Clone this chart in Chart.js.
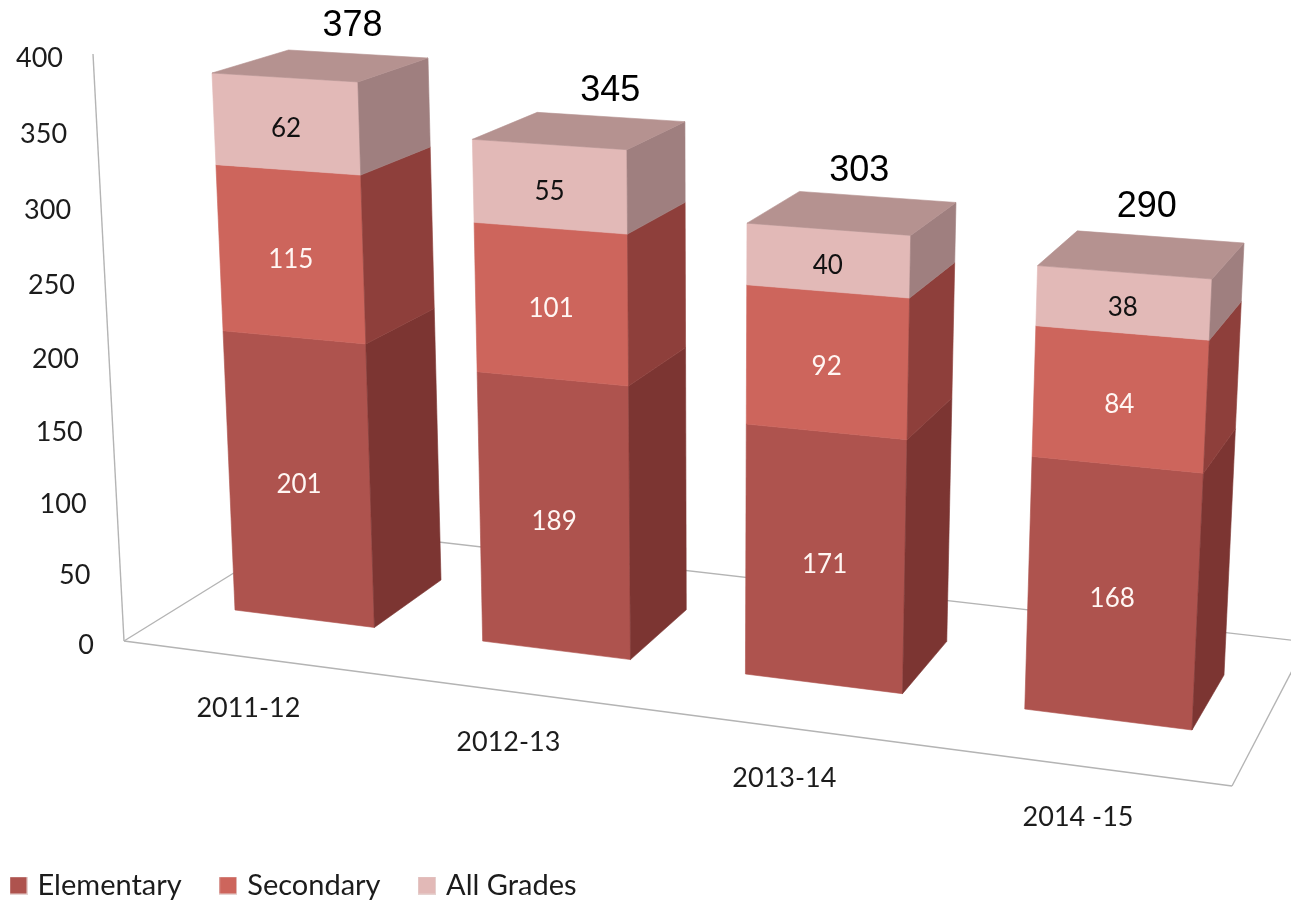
<!DOCTYPE html>
<html>
<head>
<meta charset="utf-8">
<title>Stacked bars</title>
<script src="https://cdn.jsdelivr.net/npm/chart.js@4/dist/chart.umd.min.js"></script>
<style>
  html, body { margin: 0; padding: 0; background: #fff; }
  #wrap { width: 1291px; height: 902px; }
  canvas { display: block; }
</style>
</head>
<body>
<div id="wrap"><canvas id="myChart" width="1291" height="902"></canvas></div>
<script>
const categories = ['2011-12', '2012-13', '2013-14', '2014 -15'];
const elementary = [201, 189, 171, 168];
const secondary = [115, 101, 92, 84];
const allGrades = [62, 55, 40, 38];
const totals = [378, 345, 303, 290];
const yTicks = [0, 50, 100, 150, 200, 250, 300, 350, 400];

const textFont = 'Lato, "Open Sans", sans-serif';

// [front, side, top, label colour] for each series
const shades = [
  ['#ae534e', '#7c3532', '#7c3532', '#fff6f3'],
  ['#cd655c', '#8e3f3b', '#8e3f3b', '#fff6f3'],
  ['#e2b9b7', '#9f7f7f', '#b59290', '#111111']
];

// where the picture's perspective puts things, used to fit the projections below
const frontQuad = [[235, 610], [212, 73], [1192, 730], [1212, 279]];
const backQuad = [[441, 580], [428, 58], [1224, 675], [1244, 243]];
const wallQuad = [[124, 641], [93, 54], [1232, 786], [1264, 127]];
const floorBack = [[308, 527], [1307, 642]];
const totalNudge = [[31, -40], [30, -40], [6, -42], [4, -48]];

// solve the 8 unknowns of a homography from 4 point pairs
function fitHomography(src, dst) {
  var m = [];
  for (var i = 0; i < 4; i++) {
    var x = src[i][0], y = src[i][1], u = dst[i][0], v = dst[i][1];
    m.push([x, y, 1, 0, 0, 0, -x * u, -y * u, u]);
    m.push([0, 0, 0, x, y, 1, -x * v, -y * v, v]);
  }
  for (var c = 0; c < 8; c++) {
    var best = c;
    for (var r = c + 1; r < 8; r++) {
      if (Math.abs(m[r][c]) > Math.abs(m[best][c])) best = r;
    }
    var tmp = m[c]; m[c] = m[best]; m[best] = tmp;
    for (var r2 = 0; r2 < 8; r2++) {
      if (r2 === c) continue;
      var f = m[r2][c] / m[c][c];
      for (var k = c; k < 9; k++) m[r2][k] -= f * m[c][k];
    }
  }
  var h = m.map(function (row, idx) { return row[8] / row[idx]; });
  return function (x, y) {
    var w = h[6] * x + h[7] * y + 1;
    return [(h[0] * x + h[1] * y + h[2]) / w, (h[3] * x + h[4] * y + h[5]) / w];
  };
}

function face(ctx, pts, color) {
  ctx.beginPath();
  ctx.moveTo(pts[0][0], pts[0][1]);
  for (var i = 1; i < pts.length; i++) ctx.lineTo(pts[i][0], pts[i][1]);
  ctx.closePath();
  ctx.fillStyle = color;
  ctx.strokeStyle = color;
  ctx.lineWidth = 0.6;
  ctx.fill();
  ctx.stroke();
}

function frameLine(ctx, a, b) {
  ctx.beginPath();
  ctx.moveTo(a[0], a[1]);
  ctx.lineTo(b[0], b[1]);
  ctx.stroke();
}

// legend square as an image, it can sit closer to its text than a plain box
function swatch(color) {
  var c = document.createElement('canvas');
  c.width = 18;
  c.height = 18;
  var g = c.getContext('2d');
  g.fillStyle = '#e6d2d0';
  g.fillRect(0, 0, 18, 18);
  g.fillStyle = color;
  g.fillRect(0.5, 0.5, 16.5, 16.5);
  return c;
}

const perspective = {
  id: 'perspective',
  // drawn here instead of the flat bars, returning false skips those
  beforeDatasetsDraw: function (chart) {
    var ctx = chart.ctx;
    var xs = chart.scales.x, ys = chart.scales.y;
    var last = chart.data.datasets.length - 1;
    var topBars = chart.getDatasetMeta(last).data;
    var firstBar = topBars[0], lastBar = topBars[topBars.length - 1];
    var y0 = ys.getPixelForValue(0);

    var l0 = firstBar.x - firstBar.width / 2, r0 = firstBar.x + firstBar.width / 2;
    var r3 = lastBar.x + lastBar.width / 2;
    var yFirst = ys.getPixelForValue(totals[0]);
    var yLast = ys.getPixelForValue(totals[totals.length - 1]);

    var front = fitHomography([[l0, y0], [l0, yFirst], [r3, y0], [r3, yLast]], frontQuad);
    var back = fitHomography([[r0, y0], [r0, yFirst], [r3, y0], [r3, yLast]], backQuad);
    var wall = fitHomography([[xs.left, y0], [xs.left, ys.top], [xs.right, y0], [xs.right, ys.top]], wallQuad);

    ctx.save();

    // walls and floor
    ctx.strokeStyle = '#b4b4b4';
    ctx.lineWidth = 1.4;
    var corner = wall(xs.left, y0), cornerTop = wall(xs.left, ys.top), cornerRight = wall(xs.right, y0);
    frameLine(ctx, corner, cornerTop);
    frameLine(ctx, corner, cornerRight);
    frameLine(ctx, corner, floorBack[0]);
    frameLine(ctx, floorBack[0], floorBack[1]);
    frameLine(ctx, cornerRight, floorBack[1]);

    // y axis labels along the slanted axis
    ctx.fillStyle = '#1c1c1c';
    ctx.font = '27px ' + textFont;
    ctx.textAlign = 'right';
    ctx.textBaseline = 'middle';
    ys.ticks.forEach(function (tick) {
      var p = wall(xs.left, ys.getPixelForValue(tick.value));
      ctx.fillText(String(tick.value), p[0] - 30, p[1] + 4);
    });

    // category labels hang under the front floor edge
    ctx.textAlign = 'center';
    categories.forEach(function (name, i) {
      var p = wall(xs.getPixelForValue(i), y0);
      ctx.fillText(name, p[0], p[1] + 51);
    });

    // bars, left to right and bottom to top
    categories.forEach(function (name, i) {
      chart.data.datasets.forEach(function (ds, d) {
        var bar = chart.getDatasetMeta(d).data[i];
        var l = bar.x - bar.width / 2, r = bar.x + bar.width / 2;
        var c = shades[d];
        face(ctx, [front(l, bar.base), front(r, bar.base), front(r, bar.y), front(l, bar.y)], c[0]);
        face(ctx, [front(r, bar.base), back(r, bar.base), back(r, bar.y), front(r, bar.y)], c[1]);
        if (d === last) {
          face(ctx, [front(l, bar.y), front(r, bar.y), back(r, bar.y), back(l, bar.y)], c[2]);
        }
      });
    });

    // segment values
    ctx.font = '26px ' + textFont;
    chart.data.datasets.forEach(function (ds, d) {
      chart.getDatasetMeta(d).data.forEach(function (bar, i) {
        var p = front(bar.x, (bar.y + bar.base) / 2);
        ctx.fillStyle = shades[d][3];
        ctx.fillText(String(ds.data[i]), p[0], p[1] + 5);
      });
    });

    // totals float above the top face
    ctx.font = '36px "Liberation Sans", Arial, sans-serif';
    ctx.fillStyle = '#000';
    topBars.forEach(function (bar, i) {
      var l = bar.x - bar.width / 2, r = bar.x + bar.width / 2;
      var a = front(l, bar.y), b = front(r, bar.y), e = back(r, bar.y), g = back(l, bar.y);
      var cx = (a[0] + b[0] + e[0] + g[0]) / 4, cy = (a[1] + b[1] + e[1] + g[1]) / 4;
      ctx.fillText(String(totals[i]), cx + totalNudge[i][0], cy + totalNudge[i][1]);
    });

    ctx.restore();
    return false;
  }
};

const data = {
  labels: categories,
  datasets: [
    { label: 'Elementary', data: elementary, backgroundColor: shades[0][0] },
    { label: 'Secondary', data: secondary, backgroundColor: shades[1][0] },
    { label: 'All Grades', data: allGrades, backgroundColor: shades[2][0] }
  ]
};

const config = {
  type: 'bar',
  data: data,
  plugins: [perspective],
  options: {
    responsive: false,
    animation: false,
    events: [],
    barPercentage: 0.57,
    categoryPercentage: 1,
    layout: { padding: { left: -28, bottom: -8 } },
    scales: {
      x: { stacked: true, display: false },
      y: {
        stacked: true,
        display: false,
        min: 0,
        max: 400,
        afterBuildTicks: function (axis) {
          axis.ticks = yTicks.map(function (v) { return { value: v }; });
        }
      }
    },
    plugins: {
      tooltip: { enabled: false },
      legend: {
        position: 'bottom',
        align: 'start',
        labels: {
          usePointStyle: true,
          pointStyleWidth: 9,
          boxHeight: 17,
          padding: 42,
          color: '#1c1c1c',
          font: { family: textFont, size: 29 },
          generateLabels: function (chart) {
            return Chart.defaults.plugins.legend.labels.generateLabels(chart).map(function (item, i) {
              item.pointStyle = swatch(shades[i][0]);
              return item;
            });
          }
        }
      }
    }
  }
};

const myChart = new Chart(document.getElementById('myChart'), config);
</script>
</body>
</html>
